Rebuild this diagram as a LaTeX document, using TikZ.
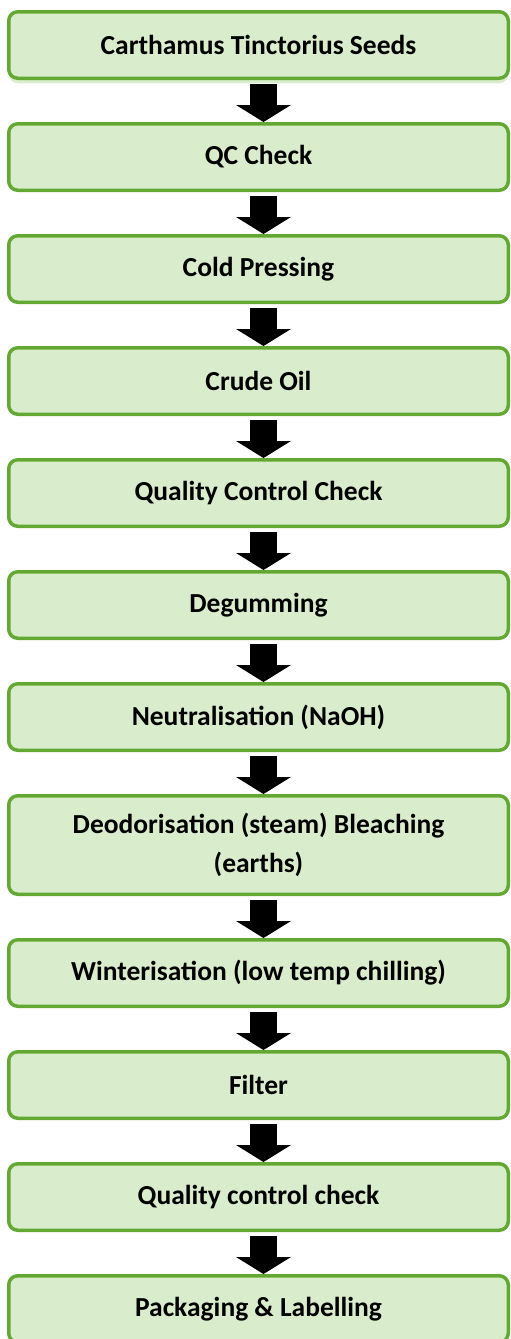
\documentclass[tikz,border=0pt]{standalone}
\usepackage{fontspec}
\setmainfont{Carlito}
\usetikzlibrary{positioning,arrows.meta,shadows}
\definecolor{boxgreen}{RGB}{100,168,52}
\definecolor{boxfill}{RGB}{217,237,205}
\begin{document}
\begin{tikzpicture}[x=1pt, y=1pt, node distance=42pt,
        stage/.style={draw=boxgreen, fill=boxfill, line width=3.5pt, rounded corners=9pt, minimum width=499.5pt, minimum height=66.5pt, inner sep=0pt, align=center, font=\fontsize{27.5}{39}\selectfont\bfseries},
        flow/.style={line width=27pt, shorten <=4pt, -{Triangle[width=55pt, length=17pt, line width=0pt]}}]
        \useasboundingbox (0,0) rectangle (511,-1339);
        \node[stage, drop shadow={shadow xshift=0pt, shadow yshift=-5pt, fill=boxfill, opacity=1}] (seeds) at (258.5,-45) {Carthamus Tinctorius Seeds};
        \node[stage, below=of seeds] (qc) {QC Check};
        \node[stage, below=of qc] (press) {Cold Pressing};
        \node[stage, below=of press] (crude) {Crude Oil};
        \node[stage, below=of crude] (qcc) {Quality Control Check};
        \node[stage, below=of qcc] (degum) {Degumming};
        \node[stage, below=of degum] (neutral) {Neutralisation (NaOH)};
        \node[stage, below=of neutral, minimum height=98.5pt] (deodor) {Deodorisation (steam) Bleaching\\(earths)};
        \node[stage, below=of deodor] (winter) {Winterisation (low temp chilling)};
        \node[stage, below=of winter] (filter) {Filter};
        \node[stage, below=of filter] (qccheck) {Quality control check};
        \node[stage, below=of qccheck] (pack) {Packaging \& Labelling};
        \foreach \a/\b in {seeds/qc, qc/press, press/crude, crude/qcc, qcc/degum, degum/neutral, neutral/deodor, deodor/winter, winter/filter, filter/qccheck, qccheck/pack}
            \draw[flow] ([xshift=5pt]\a.south) -- ([xshift=5pt]\b.north);
\end{tikzpicture}
\end{document}
